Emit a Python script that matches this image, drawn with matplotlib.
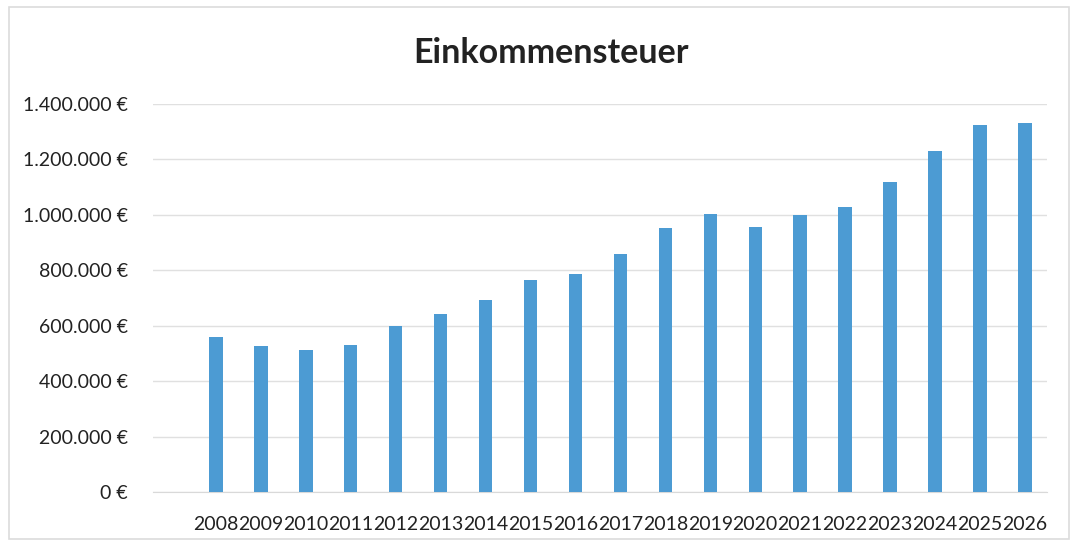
import numpy as np
import matplotlib.pyplot as plt
from matplotlib.ticker import FuncFormatter, MultipleLocator
from matplotlib.patches import Rectangle

years = ['2008', '2009', '2010', '2011', '2012', '2013', '2014', '2015', '2016', '2017',
         '2018', '2019', '2020', '2021', '2022', '2023', '2024', '2025', '2026']
steuer = [559000, 526000, 511000, 532000, 598000, 642000, 694000, 765000, 785000, 858000,
          951000, 1002000, 957000, 1000000, 1027000, 1117000, 1230000, 1324000, 1333000]

plt.rcParams['font.family'] = ['Lato', 'DejaVu Sans']

fig = plt.figure(figsize=(10.78, 5.46), dpi=100)
fig.patches.append(Rectangle((0.008, 0.012), 0.984, 0.975, transform=fig.transFigure,
                             fill=False, edgecolor='#dcdcdc', linewidth=1.2))

ax = fig.add_axes([0.1419, 0.0989, 0.8293, 0.7106])
x = np.arange(len(years))
ax.bar(x, steuer, width=0.3, color='#4C9BD3', zorder=3)

ax.set_ylim(0, 1400000)
ax.set_xlim(-1.40, 18.49)
ax.yaxis.set_major_locator(MultipleLocator(200000))
ax.yaxis.set_major_formatter(FuncFormatter(lambda v, p: f"{int(v):,}".replace(",", ".") + " €"))
ax.set_xticks(x)
ax.set_xticklabels(years)

ax.grid(axis='y', color='#e0e0e0', linewidth=1, zorder=0)
for s in ['top', 'right', 'left']:
    ax.spines[s].set_visible(False)
ax.spines['bottom'].set_color('#d9d9d9')
ax.tick_params(axis='both', length=0, labelsize=14, colors='#222222')
ax.tick_params(axis='y', pad=18)
ax.tick_params(axis='x', pad=17)

fig.text(0.511, 0.903, 'Einkommensteuer', ha='center', va='center',
         fontsize=24.5, fontweight='bold', color='#222222')

fig.savefig('out.png', dpi=100)
